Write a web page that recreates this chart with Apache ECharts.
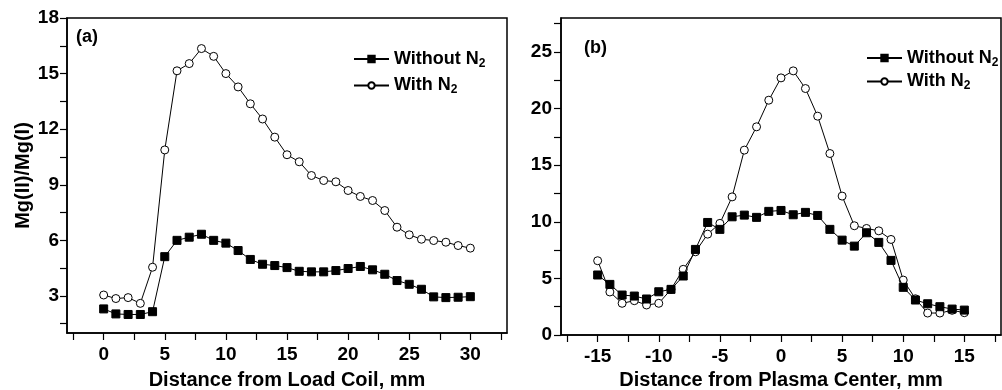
<!DOCTYPE html>
<html>
<head>
<meta charset="utf-8">
<script src="https://cdn.jsdelivr.net/npm/echarts@6/dist/echarts.min.js"></script>
<style>
html,body{margin:0;padding:0;background:#fff;}
#chart{width:1002px;height:390px;}
</style>
</head>
<body>
<div id="chart"></div>
<script>
// ---- Data ----
const xLeft = [0,1,2,3,4,5,6,7,8,9,10,11,12,13,14,15,16,17,18,19,20,21,22,23,24,25,26,27,28,29,30];
const leftWithout = [2.3,2.03,2.0,2.0,2.15,5.12,6.0,6.17,6.33,6.0,5.85,5.45,4.97,4.71,4.64,4.53,4.33,4.3,4.3,4.37,4.48,4.59,4.41,4.17,3.83,3.63,3.36,2.95,2.91,2.93,2.96];
const leftWith = [3.05,2.86,2.91,2.6,4.55,10.88,15.15,15.54,16.35,15.93,15.0,14.28,13.37,12.55,11.57,10.62,10.24,9.5,9.23,9.16,8.69,8.37,8.15,7.61,6.71,6.3,6.06,5.99,5.9,5.72,5.58];

const xRight = [-15,-14,-13,-12,-11,-10,-9,-8,-7,-6,-5,-4,-3,-2,-1,0,1,2,3,4,5,6,7,8,9,10,11,12,13,14,15];
const rightWithout = [5.3,4.47,3.53,3.44,3.18,3.82,4.03,5.21,7.56,9.94,9.33,10.44,10.59,10.39,10.92,11.0,10.62,10.83,10.56,9.33,8.38,7.85,9.03,8.18,6.59,4.21,3.09,2.76,2.5,2.29,2.2];
const rightWith = [6.56,3.8,2.8,3.03,2.65,2.8,4.03,5.8,7.35,8.91,9.86,12.2,16.33,18.39,20.74,22.71,23.33,21.77,19.33,16.03,12.27,9.65,9.41,9.2,8.44,4.85,3.2,1.94,1.94,2.18,1.97];

const leftXLabels = [0,5,10,15,20,25,30];
const leftXTicks = [-2.5,0,2.5,5,7.5,10,12.5,15,17.5,20,22.5,25,27.5,30,32.5];
const leftYLabels = [3,6,9,12,15,18];
const leftYTicks = [1.5,3,4.5,6,7.5,9,10.5,12,13.5,15,16.5,18];
const rightXLabels = [-15,-10,-5,0,5,10,15];
const rightXTicks = [-17.5,-15,-12.5,-10,-7.5,-5,-2.5,0,2.5,5,7.5,10,12.5,15,17.5];
const rightYLabels = [0,5,10,15,20,25];
const rightYTicks = [0,2.5,5,7.5,10,12.5,15,17.5,20,22.5,25,27.5];

const seriesNames = ['Without N2','With N2'];

// ---- Chart ----
const FONT = '"Liberation Sans", Arial, sans-serif';
const chart = echarts.init(document.getElementById('chart'), null, {renderer:'canvas'});

function zip(xs, ys){ return xs.map((x,i)=>[x, ys[i]]); }

function xAxisDef(gridIndex, min, max, labels, ticks, name, gap){
  return {
    type:'value', gridIndex, min, max,
    name, nameLocation:'middle', nameGap:gap,
    nameTextStyle:{fontFamily:FONT, fontWeight:'bold', fontSize:20, color:'#000'},
    axisLine:{show:true, onZero:false, lineStyle:{color:'#000', width:1.5}},
    axisTick:{show:true, inside:false, length:7, customValues:ticks, lineStyle:{color:'#000', width:1.2}},
    axisLabel:{show:true, margin:12, customValues:labels, fontFamily:FONT, fontWeight:'bold', fontSize:19, color:'#000'},
    splitLine:{show:false}
  };
}
function yAxisDef(gridIndex, min, max, labels, ticks, name, margin){
  return {
    type:'value', gridIndex, min, max,
    name, nameLocation:'middle', nameGap:34,
    nameTextStyle:{fontFamily:FONT, fontWeight:'bold', fontSize:20, color:'#000'},
    axisLine:{show:true, onZero:false, lineStyle:{color:'#000', width:1.5}},
    axisTick:{show:true, inside:false, length:7, customValues:ticks, lineStyle:{color:'#000', width:1.2}},
    axisLabel:{show:true, margin, customValues:labels, fontFamily:FONT, fontWeight:'bold', fontSize:19, color:'#000'},
    splitLine:{show:false}
  };
}

const squareStyle = {color:'#000', borderColor:'#000', borderWidth:1};
const circleStyle = {color:'#fff', borderColor:'#000', borderWidth:1};

function lineSeries(name, xi, yi, data, sym){
  return {
    name, type:'line', xAxisIndex:xi, yAxisIndex:yi, data,
    symbol: sym === 'sq' ? 'rect' : 'circle',
    symbolSize: 8,
    showAllSymbol:true,
    lineStyle:{color:'#000', width:1},
    itemStyle: sym === 'sq' ? squareStyle : circleStyle,
    emphasis:{disabled:true},
    animation:false,
    z: sym === 'sq' ? 3 : 2
  };
}

const legendText = {
  fontFamily:FONT, fontWeight:'bold', fontSize:18, color:'#000',
  rich:{
    b:{fontFamily:FONT, fontWeight:'bold', fontSize:18, color:'#000'},
    sub:{fontFamily:FONT, fontWeight:'bold', fontSize:12, color:'#000', padding:[9,0,0,0]}
  }
};
function legendFmt(n){ return '{b|' + n.replace('N2','N') + '}{sub|2}'; }

const option = {
  backgroundColor:'#fff',
  animation:false,
  textStyle:{fontFamily:FONT},
  title:[
    {text:'(a)', left:76, top:28, padding:0, textStyle:{fontFamily:FONT, fontWeight:'bold', fontSize:18, color:'#000'}},
    {text:'(b)', left:584, top:39, padding:0, textStyle:{fontFamily:FONT, fontWeight:'bold', fontSize:18, color:'#000'}}
  ],
  grid:[
    {left:67, top:18, width:440, height:315, outerBoundsMode:'none', containLabel:false, show:true, borderColor:'#000', borderWidth:1.5, backgroundColor:'transparent'},
    {left:561, top:18, width:440, height:317, outerBoundsMode:'none', containLabel:false, show:true, borderColor:'#000', borderWidth:1.5, backgroundColor:'transparent'}
  ],
  legend:[
    {data:seriesNames, orient:'vertical', left:353, top:50, padding:0, itemWidth:35, itemHeight:8, itemGap:7,
     formatter:legendFmt, textStyle:legendText, selectedMode:false},
    {data:seriesNames, orient:'vertical', left:866, top:49, padding:0, itemWidth:35, itemHeight:8, itemGap:4,
     formatter:legendFmt, textStyle:legendText, selectedMode:false}
  ],
  xAxis:[
    xAxisDef(0, -3, 33, leftXLabels, leftXTicks, 'Distance from Load Coil, mm', 37),
    xAxisDef(1, -18, 18, rightXLabels, rightXTicks, 'Distance from Plasma Center, mm', 35)
  ],
  yAxis:[
    yAxisDef(0, 1, 18, leftYLabels, leftYTicks, 'Mg(II)/Mg(I)', 8),
    yAxisDef(1, 0, 28, rightYLabels, rightYTicks, '', 9)
  ],
  series:[
    lineSeries(seriesNames[0], 0, 0, zip(xLeft, leftWithout), 'sq'),
    lineSeries(seriesNames[1], 0, 0, zip(xLeft, leftWith), 'ci'),
    lineSeries(seriesNames[0], 1, 1, zip(xRight, rightWithout), 'sq'),
    lineSeries(seriesNames[1], 1, 1, zip(xRight, rightWith), 'ci')
  ]
};
chart.setOption(option);
</script>
</body>
</html>
